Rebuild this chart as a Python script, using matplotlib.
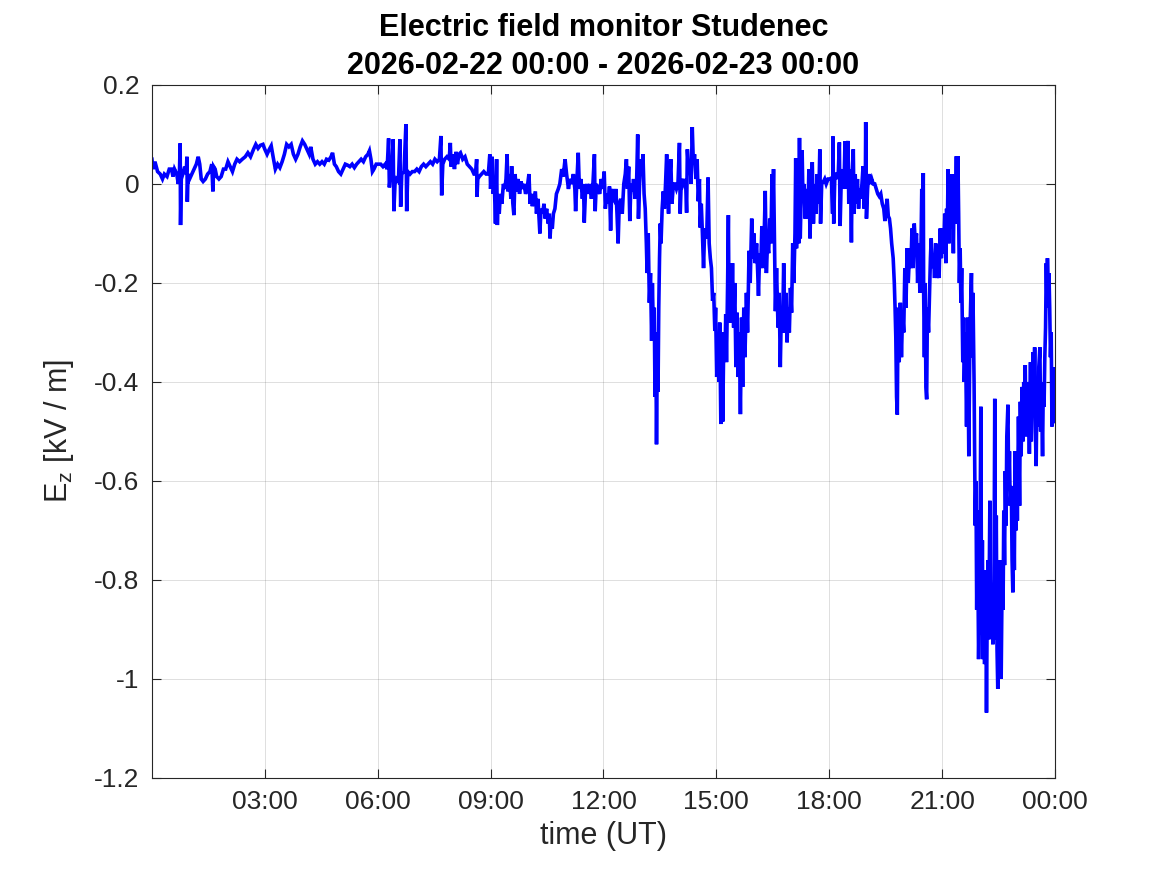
import matplotlib
matplotlib.use("Agg")
import matplotlib.pyplot as plt
from matplotlib.ticker import FixedLocator, FuncFormatter

plt.rcParams['font.family'] = ['Liberation Sans', 'DejaVu Sans']
plt.rcParams['mathtext.fontset'] = 'custom'
plt.rcParams['mathtext.rm'] = 'Liberation Sans'
plt.rcParams['mathtext.it'] = 'Liberation Sans'

title_text = "Electric field monitor Studenec\n2026-02-22 00:00 - 2026-02-23 00:00"
xlabel_text = "time (UT)"
ylabel_text = r"E$_\mathregular{z}$ [kV / m]"

xticks_h = [3, 6, 9, 12, 15, 18, 21, 24]
xtick_labels = ["03:00", "06:00", "09:00", "12:00", "15:00", "18:00", "21:00", "00:00"]
yticks_v = [-1.2, -1.0, -0.8, -0.6, -0.4, -0.2, 0.0, 0.2]

# time in hours UT, Ez in kV/m
t_seg1 = [0.00, 0.03, 0.08, 0.15, 0.22, 0.28, 0.33, 0.40, 0.46, 0.52, 0.56, 0.60, 0.66, 0.70, 0.73, 0.75, 0.76, 0.78,
          0.82, 0.87, 0.91, 0.93, 0.94, 0.96, 1.00, 1.06, 1.12, 1.18, 1.23, 1.27, 1.31, 1.36, 1.42, 1.48, 1.54, 1.59,
          1.62, 1.64, 1.68, 1.72, 1.78, 1.84, 1.90, 1.96, 2.02, 2.08, 2.14, 2.20, 2.26, 2.33, 2.40, 2.48, 2.55, 2.62,
          2.70, 2.76, 2.82, 2.88, 2.95, 3.00, 3.06, 3.12, 3.17, 3.22, 3.28, 3.34, 3.40, 3.46, 3.52, 3.58, 3.64, 3.70,
          3.76, 3.82, 3.88, 3.94, 4.00, 4.06, 4.12, 4.18, 4.22, 4.28, 4.34, 4.40, 4.46, 4.52, 4.58, 4.64, 4.70, 4.76,
          4.80, 4.85, 4.90, 4.96, 5.02, 5.08, 5.14, 5.20, 5.26, 5.32, 5.38, 5.44, 5.50, 5.56, 5.62, 5.68, 5.74, 5.78,
          5.82, 5.86, 5.90, 5.96, 6.02, 6.08, 6.14, 6.20, 6.25, 6.29, 6.31, 6.34, 6.38, 6.41, 6.43, 6.46, 6.50, 6.55,
          6.59, 6.61, 6.64, 6.70, 6.75, 6.77, 6.80, 6.86, 6.92, 6.98, 7.04, 7.10, 7.16, 7.22, 7.28, 7.34, 7.40, 7.46,
          7.52, 7.58, 7.64, 7.68, 7.70, 7.73, 7.78, 7.84, 7.90, 7.93, 7.95, 8.00, 8.04, 8.08, 8.12, 8.16, 8.20, 8.26,
          8.32, 8.38, 8.44, 8.50, 8.56, 8.60, 8.63, 8.64, 8.66, 8.70, 8.76, 8.82, 8.88, 8.94, 8.98, 9.00, 9.04, 9.07,
          9.10, 9.13, 9.16, 9.18]
ez_seg1 = [0.05, 0.03, 0.045, 0.025, 0.02, 0.01, 0.02, 0.015, 0.03, 0.03, 0.015, 0.03, 0.02, 0.0, 0.02, 0.082, -0.083, 0.01,
           0.02, 0.035, 0.02, 0.055, -0.036, 0.02, 0.01, 0.02, 0.03, 0.04, 0.055, 0.04, 0.01, 0.005, 0.01, 0.02, 0.025, 0.04,
           -0.015, 0.035, 0.03, 0.015, 0.01, 0.015, 0.03, 0.03, 0.045, 0.035, 0.025, 0.04, 0.05, 0.045, 0.05, 0.055, 0.063, 0.055,
           0.07, 0.08, 0.072, 0.078, 0.08, 0.07, 0.06, 0.07, 0.077, 0.055, 0.03, 0.04, 0.033, 0.045, 0.06, 0.08, 0.075, 0.08,
           0.06, 0.05, 0.06, 0.075, 0.087, 0.08, 0.07, 0.06, 0.075, 0.05, 0.04, 0.045, 0.04, 0.045, 0.04, 0.05, 0.048, 0.055,
           0.063, 0.04, 0.035, 0.025, 0.02, 0.03, 0.04, 0.038, 0.035, 0.04, 0.033, 0.04, 0.045, 0.05, 0.045, 0.055, 0.06, 0.067,
           0.05, 0.025, 0.03, 0.04, 0.04, 0.04, 0.035, 0.04, 0.03, 0.092, -0.007, 0.02, 0.03, 0.09, -0.055, 0.0, 0.01, 0.005,
           0.09, -0.046, 0.02, 0.025, 0.121, -0.055, 0.025, 0.02, 0.025, 0.025, 0.03, 0.025, 0.035, 0.04, 0.035, 0.04, 0.045, 0.04,
           0.05, 0.045, 0.05, 0.097, -0.023, 0.04, 0.05, 0.055, 0.05, 0.083, 0.035, 0.06, 0.03, 0.065, 0.04, 0.06, 0.063, 0.05,
           0.055, 0.04, 0.035, 0.03, 0.02, 0.02, 0.05, -0.026, 0.01, 0.015, 0.02, 0.025, 0.02, 0.02, 0.06, -0.01, 0.055, -0.02,
           0.0, -0.08, 0.05, -0.083]

t_seg2 = [9.20, 9.23, 9.26, 9.30, 9.34, 9.38, 9.41, 9.44, 9.46, 9.50, 9.54, 9.56, 9.59, 9.62, 9.65, 9.69, 9.73, 9.77,
          9.81, 9.85, 9.89, 9.93, 9.97, 10.02, 10.05, 10.08, 10.11, 10.15, 10.19, 10.22, 10.26, 10.29, 10.31, 10.34,
          10.38, 10.42, 10.45, 10.49, 10.53, 10.56, 10.58, 10.61, 10.64, 10.67, 10.71, 10.75, 10.80, 10.84, 10.89,
          10.93, 10.98, 11.02, 11.07, 11.11, 11.16, 11.20, 11.24, 11.26, 11.29, 11.33, 11.36, 11.40, 11.44, 11.47,
          11.49, 11.52, 11.56, 11.60, 11.64, 11.68, 11.72, 11.76, 11.78, 11.81, 11.85, 11.90, 11.94, 11.98, 12.02,
          12.05, 12.09, 12.13, 12.16, 12.19, 12.22, 12.26, 12.30, 12.33, 12.36, 12.39, 12.42, 12.46, 12.50, 12.54,
          12.58, 12.61, 12.64, 12.67, 12.70, 12.73, 12.77, 12.80, 12.84, 12.88, 12.91, 12.93, 12.96, 12.99, 13.02,
          13.05, 13.08, 13.11, 13.14, 13.16, 13.19, 13.22, 13.25, 13.28, 13.30, 13.33, 13.35, 13.37, 13.39, 13.41,
          13.43, 13.45, 13.47, 13.49, 13.51, 13.53, 13.56, 13.59, 13.62, 13.65, 13.68, 13.71, 13.73, 13.76, 13.79,
          13.82, 13.86, 13.90, 13.94, 13.98, 14.02, 14.04, 14.07, 14.11, 14.15, 14.19, 14.21, 14.23, 14.26, 14.30,
          14.33, 14.36, 14.39, 14.42, 14.46, 14.49, 14.52, 14.55, 14.57, 14.60, 14.63, 14.66, 14.69, 14.72, 14.75,
          14.78, 14.81, 14.84, 14.87, 14.90, 14.93, 14.96, 14.98, 15.01, 15.04, 15.07, 15.09, 15.12, 15.14, 15.17,
          15.20, 15.23, 15.25, 15.27, 15.30, 15.32, 15.34, 15.37, 15.40, 15.43, 15.46, 15.49, 15.52, 15.55, 15.58,
          15.61, 15.64, 15.67, 15.70, 15.73, 15.76, 15.80, 15.83, 15.87, 15.90, 15.94, 15.97, 16.00, 16.03, 16.07,
          16.10, 16.12, 16.15, 16.18, 16.21, 16.24, 16.27, 16.30, 16.33, 16.36, 16.39, 16.42, 16.45, 16.48, 16.50,
          16.52, 16.55, 16.57, 16.60, 16.64, 16.67, 16.70, 16.73, 16.76, 16.79, 16.82, 16.85, 16.88, 16.91, 16.94,
          16.97, 17.00, 17.03, 17.06, 17.09, 17.11, 17.13, 17.16, 17.19, 17.21, 17.23, 17.26, 17.28, 17.30]
ez_seg2 = [-0.03, -0.06, -0.02, -0.04, 0.0, -0.01, 0.01, 0.06, -0.015, 0.02, -0.03, 0.036, -0.038, -0.063, 0.02, -0.015, 0.01, -0.02,
           0.005, -0.01, 0.0, -0.02, -0.01, 0.02, -0.04, -0.02, -0.045, -0.03, -0.015, -0.06, -0.03, -0.07, -0.10, -0.05,
           -0.06, -0.04, -0.07, -0.05, -0.08, -0.06, -0.11, -0.07, -0.09, -0.06, -0.05, -0.02, -0.01, 0.0, 0.03,
           0.015, 0.05, 0.02, -0.01, 0.01, 0.0, 0.02, -0.01, -0.055, 0.0, 0.063, -0.01, 0.01, -0.03, 0.0,
           -0.078, -0.02, 0.0, -0.02, 0.0, -0.03, 0.0, 0.06, -0.055, 0.0, -0.01, -0.02, 0.01, -0.01, 0.025,
           -0.05, -0.02, -0.04, -0.005, -0.094, -0.01, -0.03, -0.035, -0.01, -0.06, -0.12, -0.04, -0.03, -0.06, 0.0,
           0.02, 0.05, -0.01, 0.035, -0.075, 0.0, -0.015, 0.01, -0.03, 0.0, 0.10, -0.07, 0.0, 0.05, 0.02,
           0.06, -0.02, -0.05, -0.12, -0.18, -0.10, -0.24, -0.18, -0.317, -0.20, -0.31, -0.25, -0.43, -0.30, -0.526,
           -0.35, -0.42, -0.25, -0.15, -0.08, -0.12, -0.05, -0.015, -0.05, 0.0, 0.06, -0.02, -0.06, 0.01, 0.05,
           -0.04, 0.0, 0.0, -0.01, 0.0, 0.083, -0.06, 0.01, 0.0, 0.01, -0.01, -0.058, 0.07, 0.03, 0.05,
           0.0, 0.115, 0.04, 0.06, 0.01, 0.05, -0.035, 0.01, -0.088, -0.04, -0.10, -0.17, -0.09, -0.11, -0.09,
           0.013, -0.12, -0.15, -0.17, -0.236, -0.22, -0.297, -0.25, -0.39, -0.30, -0.40, -0.28, -0.485, -0.32, -0.48,
           -0.30, -0.35, -0.263, -0.36, -0.20, -0.063, -0.28, -0.22, -0.28, -0.16, -0.29, -0.20, -0.37, -0.26, -0.39,
           -0.30, -0.465, -0.27, -0.41, -0.25, -0.35, -0.22, -0.30, -0.135, -0.20, -0.07, -0.15, -0.10, -0.16, -0.12,
           -0.18, -0.226, -0.14, -0.17, -0.085, -0.17, -0.11, -0.014, -0.18, -0.12, -0.14, -0.07, -0.12, 0.02, -0.05,
           0.03, -0.15, -0.257, -0.17, -0.29, -0.22, -0.37, -0.25, -0.30, -0.16, -0.30, -0.22, -0.32, -0.25, -0.30,
           -0.21, -0.26, -0.12, -0.20, -0.10, 0.052, -0.13, -0.05, -0.12, 0.093, -0.11, 0.0, 0.068, -0.02]

t_seg3 = [17.33, 17.36, 17.40, 17.43, 17.46, 17.49, 17.52, 17.55, 17.58, 17.62, 17.65, 17.68, 17.72, 17.75, 17.77,
          17.80, 17.84, 17.88, 17.92, 17.97, 18.02, 18.06, 18.09, 18.10, 18.12, 18.15, 18.18, 18.21, 18.24, 18.27,
          18.29, 18.32, 18.35, 18.37, 18.40, 18.42, 18.44, 18.47, 18.50, 18.52, 18.55, 18.57, 18.59, 18.61, 18.64,
          18.66, 18.69, 18.72, 18.75, 18.78, 18.81, 18.84, 18.87, 18.90, 18.93, 18.96, 18.97, 18.99, 19.02, 19.05,
          19.09, 19.13, 19.17, 19.21, 19.25, 19.29, 19.33, 19.37, 19.41, 19.45, 19.48, 19.51, 19.54, 19.57, 19.60,
          19.63, 19.66, 19.70, 19.73, 19.75, 19.77, 19.79, 19.81, 19.83, 19.86, 19.89, 19.92, 19.95, 19.98, 20.01,
          20.04, 20.07, 20.10, 20.14, 20.17, 20.20, 20.23, 20.26, 20.29, 20.32, 20.35, 20.38, 20.41, 20.44, 20.46,
          20.48, 20.50, 20.51, 20.53, 20.55, 20.57, 20.59, 20.61, 20.64, 20.67, 20.69, 20.71, 20.74, 20.77, 20.80,
          20.83, 20.86, 20.89, 20.92, 20.95, 20.98, 21.01, 21.04, 21.07, 21.10, 21.12, 21.14, 21.16, 21.18, 21.21,
          21.24, 21.27, 21.30, 21.32, 21.35, 21.38, 21.40, 21.42, 21.44, 21.46, 21.48, 21.50, 21.52, 21.55, 21.57,
          21.59, 21.62, 21.65, 21.68, 21.71, 21.74, 21.78, 21.80, 21.82, 21.85, 21.88, 21.90, 21.92, 21.94, 21.97,
          21.99, 22.01, 22.03, 22.05, 22.07, 22.09, 22.11, 22.13, 22.16, 22.18, 22.20, 22.22, 22.24, 22.27, 22.29,
          22.31, 22.33, 22.35, 22.38, 22.40, 22.42, 22.44, 22.46, 22.48, 22.50, 22.53, 22.55, 22.57, 22.60, 22.62,
          22.64, 22.66, 22.68, 22.70, 22.72, 22.75, 22.77, 22.79, 22.81, 22.84, 22.86, 22.88, 22.90, 22.92, 22.94,
          22.96, 22.98, 23.00, 23.03, 23.06, 23.08, 23.10, 23.13, 23.15, 23.17, 23.19, 23.21, 23.23, 23.26, 23.28,
          23.30, 23.32, 23.35, 23.37, 23.40, 23.42, 23.44, 23.46, 23.48, 23.50, 23.52, 23.55, 23.57, 23.60, 23.62,
          23.64, 23.67, 23.69, 23.71, 23.73, 23.75, 23.77, 23.79, 23.80, 23.82, 23.84, 23.86, 23.88, 23.90, 23.92,
          23.94, 23.96, 23.98, 24.00]
ez_seg3 = [0.0, -0.07, -0.01, -0.07, 0.03, -0.11, 0.0, 0.044, -0.08, 0.0, -0.06, 0.02, -0.04, 0.07, -0.08,
           0.0, 0.004, 0.01, 0.0, 0.01, 0.01, 0.012, -0.06, 0.096, -0.08, 0.02, 0.02, 0.01, 0.02, 0.084,
           -0.085, 0.01, 0.03, -0.01, 0.02, 0.086, -0.01, 0.05, 0.087, -0.04, 0.03, 0.0, -0.118, 0.02, 0.07,
           -0.06, 0.02, -0.04, 0.01, -0.05, -0.01, -0.03, 0.0, 0.036, -0.05, 0.0, 0.125, -0.07, -0.01, 0.02,
           0.0, 0.01, 0.0, 0.0, -0.01, -0.02, -0.025, -0.02, -0.04, -0.05, -0.075, -0.05, -0.03, -0.065, -0.07,
           -0.09, -0.12, -0.15, -0.20, -0.25, -0.31, -0.43, -0.466, -0.25, -0.36, -0.24, -0.35, -0.26, -0.30, -0.17,
           -0.25, -0.13, -0.20, -0.13, -0.17, -0.09, -0.17, -0.08, -0.12, -0.10, -0.20, -0.12, -0.22, -0.12, -0.01,
           -0.15, 0.022, -0.22, -0.35, -0.20, -0.41, -0.435, -0.25, -0.30, -0.21, -0.15, -0.11, -0.17, -0.14, -0.19,
           -0.12, -0.19, -0.17, -0.19, -0.09, -0.15, -0.09, -0.14, -0.06, -0.16, -0.05, -0.09, 0.03, -0.12, 0.01,
           -0.09, 0.02, -0.14, 0.01, -0.08, 0.056, -0.08, 0.056, -0.06, -0.20, -0.13, -0.24, -0.17, -0.36, -0.27,
           -0.40, -0.30, -0.49, -0.27, -0.55, -0.30, -0.18, -0.35, -0.22, -0.40, -0.69, -0.60, -0.86, -0.66, -0.96,
           -0.86, -0.70, -0.45, -0.91, -0.72, -0.96, -0.78, -0.97, -0.82, -1.068, -0.85, -0.76, -0.92, -0.64, -0.91,
           -0.82, -0.86, -0.93, -0.80, -0.434, -0.92, -0.67, -0.94, -1.02, -0.76, -0.96, -0.84, -1.0, -0.76, -0.86,
           -0.66, -0.77, -0.58, -0.69, -0.51, -0.446, -0.62, -0.54, -0.65, -0.61, -0.76, -0.825, -0.62, -0.78, -0.54,
           -0.70, -0.56, -0.68, -0.47, -0.65, -0.44, -0.55, -0.41, -0.52, -0.40, -0.48, -0.366, -0.51, -0.40, -0.47,
           -0.44, -0.545, -0.36, -0.52, -0.38, -0.34, -0.47, -0.33, -0.50, -0.57, -0.42, -0.49, -0.37, -0.33, -0.50,
           -0.41, -0.55, -0.40, -0.45, -0.35, -0.29, -0.16, -0.25, -0.15, -0.22, -0.18, -0.25, -0.35, -0.30, -0.49,
           -0.40, -0.48, -0.37, -0.48]

time_h = t_seg1 + t_seg2 + t_seg3
ez = ez_seg1 + ez_seg2 + ez_seg3

fig = plt.figure(figsize=(11.67, 8.75), dpi=100)
ax = fig.add_axes([0.1302, 0.1109, 0.7738, 0.7920])

ax.plot(time_h, ez, color=(0, 0, 1), linewidth=2.6, solid_joinstyle='miter')

ax.set_xlim(0, 24)
ax.set_ylim(-1.2, 0.2)
ax.xaxis.set_major_locator(FixedLocator(xticks_h))
ax.set_xticklabels(xtick_labels)
ax.yaxis.set_major_locator(FixedLocator(yticks_v))

def yfmt(v, pos):
    s = f"{v:.1f}"
    if s.endswith(".0"):
        s = s[:-2]
    if s == "-0":
        s = "0"
    return s.replace("−", "-")

ax.yaxis.set_major_formatter(FuncFormatter(yfmt))

dark = (0.15, 0.15, 0.15)
ax.grid(True, color=(0.15, 0.15, 0.15), alpha=0.15, linewidth=0.7)
ax.set_axisbelow(True)
for sp in ax.spines.values():
    sp.set_color(dark)
    sp.set_linewidth(0.8)
ax.tick_params(axis='both', direction='in', length=6.5, width=0.8, color=dark,
               labelcolor=dark, labelsize=19, top=True, right=True, pad=9)

ax.set_xlabel(xlabel_text, fontsize=22, color=dark, labelpad=5)
ax.set_ylabel(ylabel_text, fontsize=22, color=dark, labelpad=13)
ax.set_title(title_text, fontsize=22, fontweight='bold', color='black', pad=8, linespacing=1.35)

fig.savefig("out.png", dpi=100)
